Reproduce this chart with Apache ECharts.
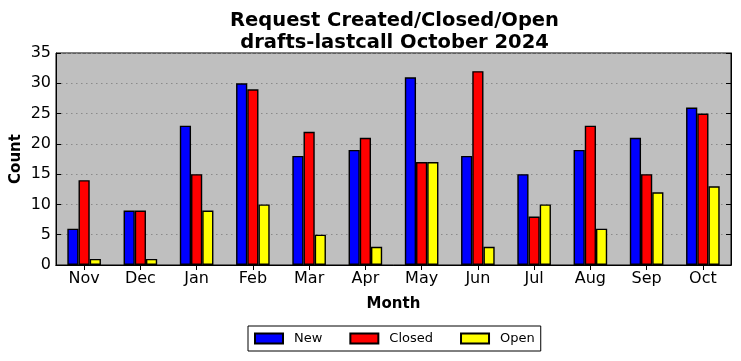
<!DOCTYPE html>
<html><head><meta charset="utf-8">
<script src="https://cdn.jsdelivr.net/npm/echarts@6/dist/echarts.min.js"></script>
<style>html,body{margin:0;padding:0;background:#fff}#c{width:741px;height:361px}</style>
</head><body><div id="c"></div>
<script>
const months = ['Nov','Dec','Jan','Feb','Mar','Apr','May','Jun','Jul','Aug','Sep','Oct'];
const newVals = [6, 9, 23, 30, 18, 19, 31, 18, 15, 19, 21, 26];
const closedVals = [14, 9, 15, 29, 22, 21, 17, 32, 8, 23, 15, 25];
const openVals = [1, 1, 9, 10, 5, 3, 17, 3, 10, 6, 12, 13];
const yTicks = [0, 5, 10, 15, 20, 25, 30, 35];

const F = 'DejaVu Sans';
const chart = echarts.init(document.getElementById('c'), null, {renderer: 'canvas'});
function bar(name, data, color) {
  return {
    name, type: 'bar', data, barWidth: 11.2, barGap: '0%',
    itemStyle: {color, borderColor: '#000', borderWidth: 1.4},
    xAxisIndex: 0, yAxisIndex: 0
  };
}
chart.setOption({
  animation: false,
  title: {
    text: 'Request Created/Closed/Open\ndrafts-lastcall October 2024',
    left: 389.5, textAlign: 'center', top: 5,
    textStyle: {fontFamily: F, fontWeight: 'bold', fontSize: 19.5, lineHeight: 22, color: '#000'}
  },
  grid: {left: 56, right: 10, top: 53, bottom: 96, outerBoundsMode: 'none', containLabel: false, show: true, backgroundColor: '#bfbfbf', borderColor: '#000', borderWidth: 1},
  legend: {
    data: ['New', 'Closed', 'Open'],
    left: 248, top: 326, orient: 'horizontal',
    padding: [6, 6, 6, 6], itemGap: 27,
    itemWidth: 28, itemHeight: 10, icon: 'rect',
    borderColor: '#000', borderWidth: 1, backgroundColor: '#fff',
    textStyle: {fontFamily: F, fontSize: 13, color: '#000', padding: [0, 0, 0, 6]}
  },
  xAxis: [{
    type: 'category', data: months, position: 'bottom',
    name: 'Month', nameLocation: 'middle', nameGap: 32, nameMoveOverlap: false,
    nameTextStyle: {fontFamily: F, fontWeight: 'bold', fontSize: 15, color: '#000'},
    axisLine: {show: true, lineStyle: {color: '#000'}},
    axisTick: {show: true, inside: true, alignWithLabel: true, length: 5, lineStyle: {color: '#000'}},
    axisLabel: {fontFamily: F, fontSize: 16, color: '#000', margin: 6},
    splitLine: {show: false}
  }, {
    type: 'category', data: months, position: 'top',
    axisLine: {show: true, lineStyle: {color: '#000'}},
    axisTick: {show: true, inside: true, alignWithLabel: true, length: 5, lineStyle: {color: '#000'}},
    axisLabel: {show: false}, splitLine: {show: false}
  }],
  yAxis: [{
    type: 'value', min: 0, max: 35, interval: 5, position: 'left',
    name: 'Count', nameLocation: 'middle', nameGap: 32, nameRotate: 90, nameMoveOverlap: false,
    nameTextStyle: {fontFamily: F, fontWeight: 'bold', fontSize: 15, color: '#000'},
    axisLine: {show: true, lineStyle: {color: '#000'}},
    axisTick: {show: true, inside: true, length: 5, lineStyle: {color: '#000'}},
    axisLabel: {fontFamily: F, fontSize: 16, color: '#000', margin: 5,
      formatter: v => yTicks.includes(v) ? String(v) : ''},
    splitLine: {show: true, lineStyle: {color: '#8a8a8a', type: [1.5, 3.5], width: 1}}
  }, {
    type: 'value', min: 0, max: 35, interval: 5, position: 'right',
    axisLine: {show: true, lineStyle: {color: '#000'}},
    axisTick: {show: true, inside: true, length: 5, lineStyle: {color: '#000'}},
    axisLabel: {show: false}, splitLine: {show: false}
  }],
  series: [
    bar('New', newVals, '#0000ff'),
    bar('Closed', closedVals, '#ff0000'),
    bar('Open', openVals, '#ffff00')
  ]
});
</script></body></html>
